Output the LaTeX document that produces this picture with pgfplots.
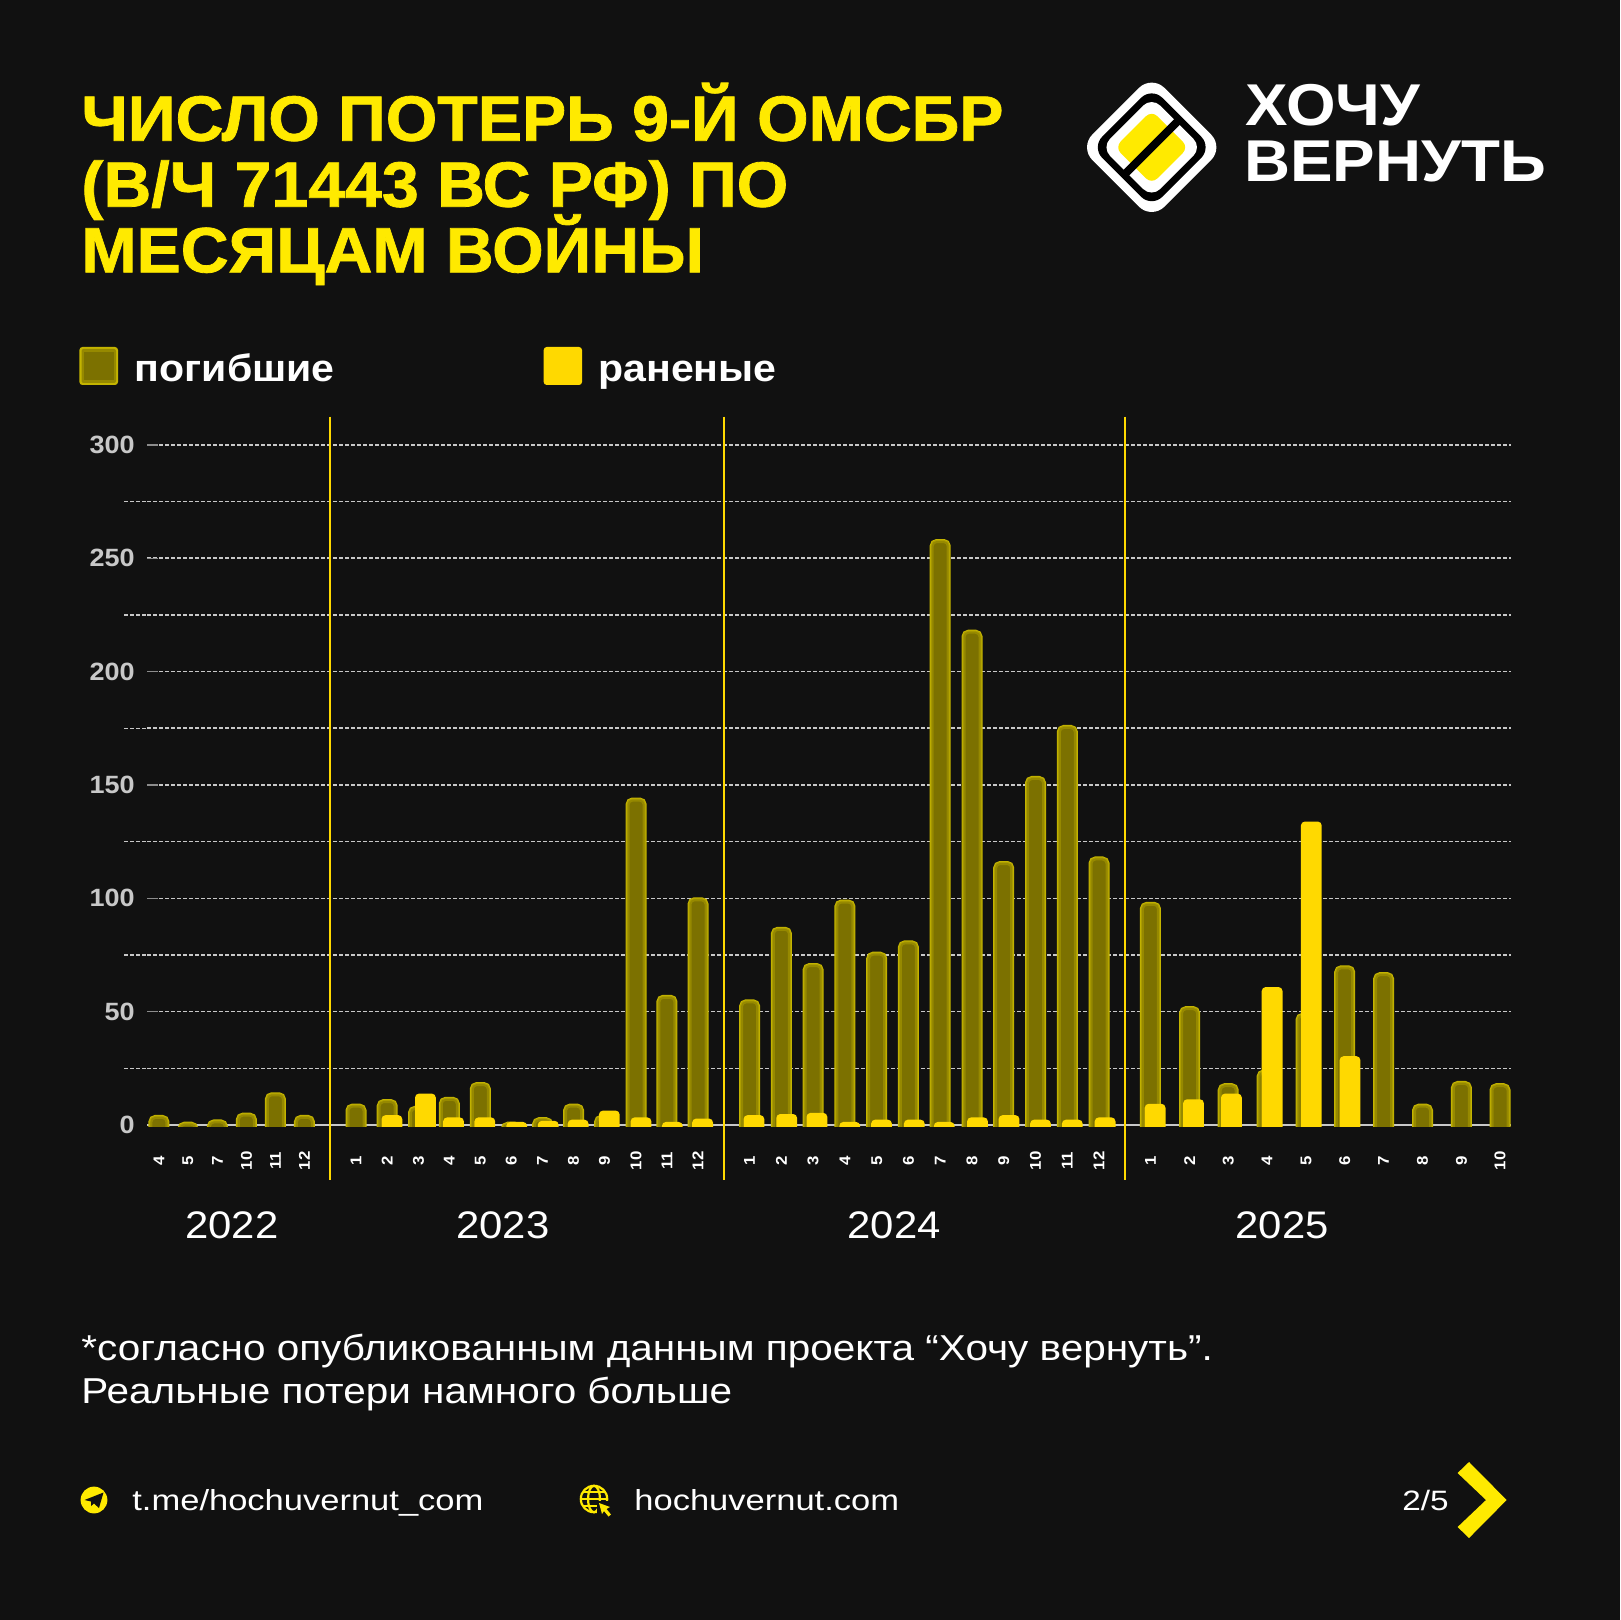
\documentclass[border=0pt]{standalone}
\usepackage{fontspec}
\usepackage{pgfplots}
\usepackage{pgfplotstable}
\pgfplotsset{compat=1.18}
\setmainfont{Liberation Sans}
\newfontfamily\fr[FakeStretch=1.125]{Liberation Sans}
\newfontfamily\ff[FakeStretch=1.19]{Liberation Sans}
\newfontfamily\fy[FakeStretch=1.09]{Liberation Sans}
\newfontfamily\fb[FakeStretch=1.08]{Liberation Sans Bold}
\newfontfamily\ft[FakeStretch=1.035,FakeBold=1.2]{Liberation Sans Bold}
\newcommand\fs[1]{\fontsize{#1}{#1}\selectfont}
\definecolor{bgc}{HTML}{111111}
\definecolor{ttl}{HTML}{FFEA00}
\definecolor{yel}{HTML}{FFD900}
\definecolor{dk1}{HTML}{C4B400}
\definecolor{dk2}{HTML}{AE9F00}
\definecolor{dk3}{HTML}{968900}
\definecolor{dk4}{HTML}{7C7100}
\definecolor{grd}{HTML}{C8C8C8}
\pgfplotstableread{
x y
158.9 4
187.9 1
217.4 2
246.4 5
275.4 14
304.4 4
356.0 9
387.2 11
418.5 8
449.3 12
480.3 18.5
511.3 1
542.6 3
573.6 9
604.6 4
636.1 144
666.9 57
698.0 100
749.6 55
781.4 87
813.1 71
844.9 99
876.7 76
908.4 81
940.2 258
972.0 218
1003.7 116
1035.5 153.5
1067.3 176
1099.0 118
1150.4 98
1189.6 52
1228.2 18
1267.1 24
1306.0 49
1344.7 70
1383.6 67
1422.5 9
1461.4 19
1500.0 18
}\dead
\pgfplotstableread{
x y
391.9 4
425.4 13.5
453.5 3
484.8 3
516.7 1
548.2 1.5
578.1 2
609.3 6
641.0 3
672.3 1
702.6 2.5
753.9 4
786.7 4.5
816.9 5
849.7 1
881.5 2
914.3 2
944.2 1
977.5 3
1009.0 4
1040.5 2
1072.3 2
1105.1 3
1155.1 9
1193.5 11
1231.4 13.5
1272.1 60.5
1311.3 133.5
1350.0 30
}\wounded
\begin{document}
\begin{tikzpicture}[x=0.5pt,y=-0.5pt]
\useasboundingbox (0,0) rectangle (1620,1620);
\fill[bgc] (0,0) rectangle (1620,1620);
% title
\node[anchor=base west,inner sep=0,text=ttl,font=\ft\fs{32pt}] at (81,140.7) {ЧИСЛО ПОТЕРЬ 9-Й ОМСБР};
\node[anchor=base west,inner sep=0,text=ttl,font=\ft\fs{32pt}] at (81,206.7) {(В/Ч 71443 ВС РФ) ПО};
\node[anchor=base west,inner sep=0,text=ttl,font=\ft\fs{32pt}] at (81,272.3) {МЕСЯЦАМ ВОЙНЫ};
% logo
\begin{scope}[shift={(1151.7,147.3)},rotate=45]
\fill[white,rounded corners=9pt] (-51,-51) rectangle (51,51);
\fill[black,rounded corners=7.5pt] (-42.5,-42.5) rectangle (42.5,42.5);
\fill[white,rounded corners=6pt] (-35.5,-35.5) rectangle (35.5,35.5);
\fill[ttl,rounded corners=4pt] (-26,-26) rectangle (26,26);
\fill[black] (-38,-4) rectangle (38,4);
\end{scope}
\node[anchor=base west,inner sep=0,text=white,font=\fb\fs{29.5pt}] at (1245,125.7) {ХОЧУ};
\node[anchor=base west,inner sep=0,text=white,font=\fb\fs{29.5pt}] at (1244,181.7) {ВЕРНУТЬ};
% legend
\begin{scope}
\fill[dk1,rounded corners=1.5pt] (79.4,347) rectangle (118,385);
\fill[dk3,rounded corners=1pt] (81.5,349) rectangle (116,383);
\fill[dk4] (84,352) rectangle (113.5,380);
\fill[yel,rounded corners=1.5pt] (543.7,347) rectangle (582,385);
\end{scope}
\node[anchor=base west,inner sep=0,text=white,font=\fb\fs{19pt}] at (134.5,382) {погибшие};
\node[anchor=base west,inner sep=0,text=white,font=\fb\fs{19pt}] at (598,382) {раненые};
% grid stubs and baseline
\foreach \yy in {1068.3,955,841.7,728.3,615,501.7}
  \draw[grd,line width=0.75pt,dash pattern=on 1.9pt off 1.1pt] (124,\yy) -- (147,\yy);
\draw[grd,line width=1pt] (147,1125) -- (1511.4,1125);
\begin{axis}[
  at={(73.5pt,-568.17pt)},anchor=south west,scale only axis,
  width=682.2pt,height=359.82pt,
  xmin=147,xmax=1511.4,
  % the y axis runs 5 above the values, so that bars start under the masked baseline
  ymin=0,ymax=317.4,
  clip mode=individual,
  axis line style={draw=none},
  major tick length=0pt,minor tick length=0pt,
  ytick={5,55,105,155,205,255,305},
  yticklabels={0,50,100,150,200,250,300},
  minor ytick={30,80,130,180,230,280},
  ymajorgrids,yminorgrids,
  major grid style={grd,line width=0.75pt,dash pattern=on 1.9pt off 1.1pt},
  minor grid style={grd,line width=0.75pt,dash pattern=on 1.9pt off 1.1pt},
  yticklabel style={text=grd,font=\fb\fs{12.5pt},anchor=east,xshift=-6pt,inner sep=0pt},
  xtick={158.9,187.9,217.4,246.4,275.4,304.4,356.0,387.2,418.5,449.3,480.3,511.3,542.6,573.6,604.6,636.1,666.9,698.0,749.6,781.4,813.1,844.9,876.7,908.4,940.2,972.0,1003.7,1035.5,1067.3,1099.0,1150.4,1189.6,1228.2,1267.1,1306.0,1344.7,1383.6,1422.5,1461.4,1500.0},
  xticklabels={4,5,7,10,11,12,1,2,3,4,5,6,7,8,9,10,11,12,1,2,3,4,5,6,7,8,9,10,11,12,1,2,3,4,5,6,7,8,9,10},
  xticklabel style={text=white,font=\fb\fs{7.8pt},rotate=90,anchor=center,xshift=-12.18pt,inner sep=0pt},
]
\addplot[ybar,bar width=7.5pt,bar shift=0pt,yshift=-1pt,rounded corners=2pt,
  preaction={draw=dk1,line width=3pt},
  preaction={draw=dk2,line width=2pt},
  draw=dk3,line width=1pt,fill=dk4] table[x=x,y expr=\thisrow{y}+5] {\dead};
\addplot[ybar,bar width=10.4pt,bar shift=0pt,yshift=0.4pt,rounded corners=2pt,draw=none,fill=yel] table[x=x,y expr=\thisrow{y}+5] {\wounded};
\end{axis}
% mask under the baseline
\fill[bgc] (140,1126.7) rectangle (1520,1143);
\foreach \yy in {1011.7,898.3,785,671.7,558.3,445}
  \draw[grd!70!black,line width=0.75pt] (147,\yy) -- (158,\yy);
% year separators
\foreach \xx in {330.1,723.8,1125}
  \draw[yel,line width=0.8pt] (\xx,416.7) -- (\xx,1180);
% years
\foreach \xx/\yr in {232/2022,503/2023,894/2024,1282/2025}
  \node[anchor=base,inner sep=0,text=white,font=\fy\fs{19.2pt}] at (\xx,1238.5) {\yr};
% note
\node[anchor=base west,inner sep=0,text=white,font=\fr\fs{18pt}] at (81,1360) {*согласно опубликованным данным проекта “Хочу вернуть”.};
\node[anchor=base west,inner sep=0,text=white,font=\fr\fs{18pt}] at (81,1403) {Реальные потери намного больше};
% footer
\fill[ttl] (94,1500) circle (6.7pt);
\fill[bgc] (84.5,1500) -- (103.5,1492.5) -- (99,1508) -- (94,1503.5) -- (91,1506) -- (91,1501.5) -- cycle;
\node[anchor=base west,inner sep=0,text=white,font=\ff\fs{14.5pt}] at (132,1510) {t.me/hochuvernut\_com};
\begin{scope}[ttl,line width=1.1pt]
\draw (594,1499) circle (6.6pt);
\draw (594,1499) ellipse (3pt and 6.6pt);
\draw (580.8,1499) -- (607.2,1499);
\draw (582.5,1492) -- (605.5,1492);
\draw (582.5,1506) -- (605.5,1506);
\fill[bgc] (597,1501) rectangle (612,1518);
\fill[ttl] (599,1503) -- (610,1507) -- (606.5,1509) -- (611,1514.5) -- (608.5,1516.5) -- (604,1511) -- (602,1514) -- cycle;
\end{scope}
\node[anchor=base west,inner sep=0,text=white,font=\ff\fs{14.5pt}] at (634,1510) {hochuvernut.com};
\node[anchor=base west,inner sep=0,text=white,font=\ff\fs{14pt}] at (1402,1510) {2/5};
\fill[ttl] (1457.6,1473) -- (1469,1462) -- (1506.6,1500) -- (1469,1538) -- (1457.6,1527) -- (1486,1500) -- cycle;
\end{tikzpicture}
\end{document}
